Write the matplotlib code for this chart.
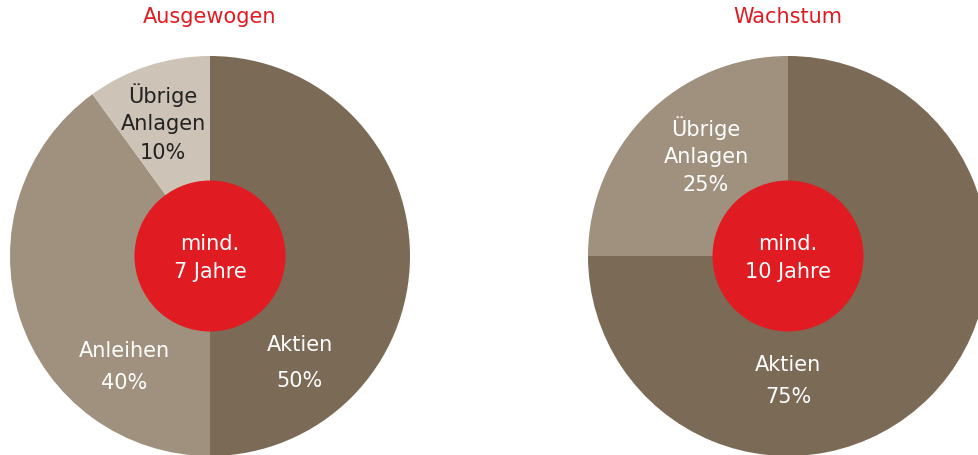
import matplotlib
matplotlib.use("Agg")
import matplotlib.pyplot as plt
from matplotlib.patches import Circle

plt.rcParams['font.family'] = ['DejaVu Sans']

# Portfolio allocations (percent), listed clockwise from 12 o'clock
titles = ["Ausgewogen", "Wachstum"]
horizons = ["mind.\n7 Jahre", "mind.\n10 Jahre"]
balanced_labels = ["Aktien", "Anleihen", "Übrige\nAnlagen"]
balanced_values = [50, 40, 10]
growth_labels = ["Aktien", "Übrige\nAnlagen"]
growth_values = [75, 25]

DARK = "#7a6a56"
MID = "#a0907e"
LIGHT = "#cdc3b7"
RED = "#e11b22"

W, H = 979, 456
fig = plt.figure(figsize=(W / 100, H / 100), dpi=100)
ax = fig.add_axes([0, 0, 1, 1])
ax.set_xlim(0, W)
ax.set_ylim(0, H)
ax.set_aspect("equal")
ax.axis("off")

R = 200
R_INNER = 75.5
CY = H - 257

def draw(cx, values, colors):
    ax.pie(values, colors=colors, startangle=90, counterclock=False,
           center=(cx, CY), radius=R, frame=True,
           wedgeprops=dict(linewidth=0))
    ax.add_patch(Circle((cx, CY), R_INNER, facecolor=RED, edgecolor="none", zorder=3))

draw(210, balanced_values, [DARK, MID, LIGHT])
draw(788, growth_values, [DARK, MID])
ax.set_xlim(0, W)
ax.set_ylim(0, H)
ax.axis("off")

fs = 15
txt = dict(ha="center", va="center", fontsize=fs, linespacing=1.45, zorder=4)

# titles
ax.text(210, H - 17, titles[0], color=RED, **txt)
ax.text(788, H - 17, titles[1], color=RED, **txt)

# centre labels
ax.text(210, H - 258, horizons[0], color="white", **txt)
ax.text(788, H - 258, horizons[1], color="white", **txt)

# slice labels, left pie
ax.text(300, H - 363, f"{balanced_labels[0]}\n\n{balanced_values[0]}%".replace("\n\n", "\n"),
        color="white", ha="center", va="center", fontsize=fs, linespacing=1.95, zorder=4)
ax.text(124, H - 367, f"{balanced_labels[1]}\n{balanced_values[1]}%",
        color="white", ha="center", va="center", fontsize=fs, linespacing=1.75, zorder=4)
ax.text(163, H - 109, balanced_labels[2], color="#222222", **txt)
ax.text(163, H - 153, f"{balanced_values[2]}%", color="#222222", **txt)

# slice labels, right pie
ax.text(788, H - 381, f"{growth_labels[0]}\n{growth_values[0]}%",
        color="white", ha="center", va="center", fontsize=fs, linespacing=1.75, zorder=4)
ax.text(706, H - 142, growth_labels[1], color="white", **txt)
ax.text(706, H - 185, f"{growth_values[1]}%", color="white", **txt)

fig.savefig("out.png", dpi=100, facecolor="white")
